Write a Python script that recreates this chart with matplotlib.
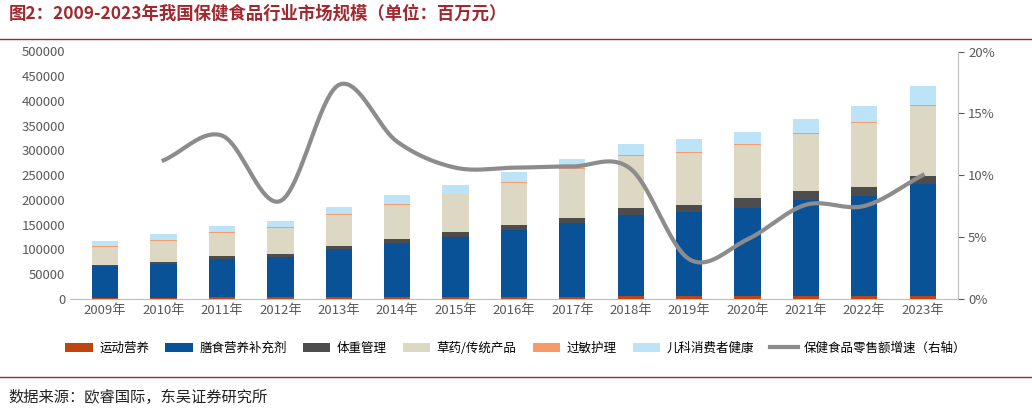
import matplotlib
matplotlib.use("Agg")
import matplotlib.pyplot as plt
import numpy as np
from matplotlib.ticker import PercentFormatter
plt.rcParams['font.family'] = ['Noto Sans CJK SC']

years = [f"{y}年" for y in range(2009, 2024)]
sport = [2000, 2200, 2500, 2800, 3000, 3300, 3600, 3900, 4200, 4500, 4700, 5000, 5500, 5800, 6200]
diet_cum = [66000, 70000, 80000, 84000, 100000, 112000, 125000, 138000, 153000, 170000, 176000, 184000, 199000, 208000, 232000]
weight_cum = [69000, 75000, 86000, 91000, 107000, 121000, 134000, 149000, 164000, 183000, 190000, 204000, 218000, 225000, 248000]
herbal_cum = [105000, 117000, 133000, 143000, 170000, 190000, 211000, 235000, 262000, 288000, 295000, 311000, 333000, 355000, 390000]
allergy = [800, 900, 1000, 1100, 1200, 1300, 1400, 1500, 1600, 1700, 1800, 1900, 2000, 2100, 2200]
total = [117000, 130000, 147000, 158000, 186000, 210000, 230000, 256000, 283000, 313000, 323000, 338000, 364000, 390000, 430000]
growth = [11.2, 13.2, 7.9, 17.3, 12.7, 10.6, 10.6, 10.7, 10.5, 3.2, 4.8, 7.6, 7.5, 10.0]

diet = [d - s for d, s in zip(diet_cum, sport)]
weight = [w - d for w, d in zip(weight_cum, diet_cum)]
herbal = [h - w for h, w in zip(herbal_cum, weight_cum)]
ped = [t - h - a for t, h, a in zip(total, herbal_cum, allergy)]

def smooth(xs, ys, n=20):
    xs = np.asarray(xs, float); ys = np.asarray(ys, float)
    px = np.concatenate([[2*xs[0]-xs[1]], xs, [2*xs[-1]-xs[-2]]])
    py = np.concatenate([[2*ys[0]-ys[1]], ys, [2*ys[-1]-ys[-2]]])
    ox, oy = [], []
    for i in range(1, len(px) - 2):
        t = np.linspace(0, 1, n, endpoint=False)
        for p, o in ((px, ox), (py, oy)):
            p0, p1, p2, p3 = p[i-1], p[i], p[i+1], p[i+2]
            o.extend(0.5*((2*p1) + (-p0+p2)*t + (2*p0-5*p1+4*p2-p3)*t**2 + (-p0+3*p1-3*p2+p3)*t**3))
    ox.append(xs[-1]); oy.append(ys[-1])
    return ox, oy

fig = plt.figure(figsize=(10.32, 4.12), dpi=100)
ax = fig.add_axes([0.068, 0.275, 0.86, 0.60])
x = np.arange(len(years))
w = 0.45
series = [(sport, '#C0440E', '运动营养'), (diet, '#0A5298', '膳食营养补充剂'),
          (weight, '#4D4D4D', '体重管理'), (herbal, '#DDD8C4', '草药/传统产品'),
          (allergy, '#F79A6A', '过敏护理'), (ped, '#BDE3F8', '儿科消费者健康')]
bottom = np.zeros(len(x))
for vals, c, lab in series:
    ax.bar(x, vals, w, bottom=bottom, color=c, label=lab)
    bottom += np.array(vals)
ax.set_ylim(0, 500000)
ax.set_yticks(range(0, 500001, 50000))
ax.set_xlim(-0.6, len(x) - 0.4)
ax.set_xticks(x)
ax.set_xticklabels(years)
for s in ['top', 'right', 'left']:
    ax.spines[s].set_visible(False)
ax.spines['bottom'].set_color('#BFBFBF')
ax.tick_params(axis='both', length=0, labelsize=9.5, colors='#595959')

ax2 = ax.twinx()
sx, sy = smooth(x[1:], growth)
ax2.plot(sx, sy, color='#8C8C8C', lw=3, label='保健食品零售额增速（右轴）')
ax2.set_ylim(0, 20)
ax2.set_yticks(range(0, 21, 5))
ax2.yaxis.set_major_formatter(PercentFormatter(decimals=0))
for s in ['top', 'left', 'bottom']:
    ax2.spines[s].set_visible(False)
ax2.spines['right'].set_color('#BFBFBF')
ax2.tick_params(axis='y', length=4, labelsize=9.5, colors='#595959')

h1, l1 = ax.get_legend_handles_labels()
h2, l2 = ax2.get_legend_handles_labels()
fig.legend(h1 + h2, l1 + l2, loc='center', bbox_to_anchor=(0.5, 0.155), ncol=7,
           frameon=False, fontsize=9, handlelength=2.2, columnspacing=1.3, handletextpad=0.5)

fig.text(0.008, 0.955, '图2：2009-2023年我国保健食品行业市场规模（单位：百万元）',
         fontsize=12.5, fontweight='bold', color='#A0282E')
fig.add_artist(plt.Line2D([0, 1], [0.905, 0.905], color='#A0282E', lw=1))
fig.add_artist(plt.Line2D([0, 1], [0.085, 0.085], color='#A0282E', lw=1))
fig.text(0.008, 0.025, '数据来源：欧睿国际，东吴证券研究所', fontsize=11, color='#222222')
fig.savefig('out.png', dpi=100)
